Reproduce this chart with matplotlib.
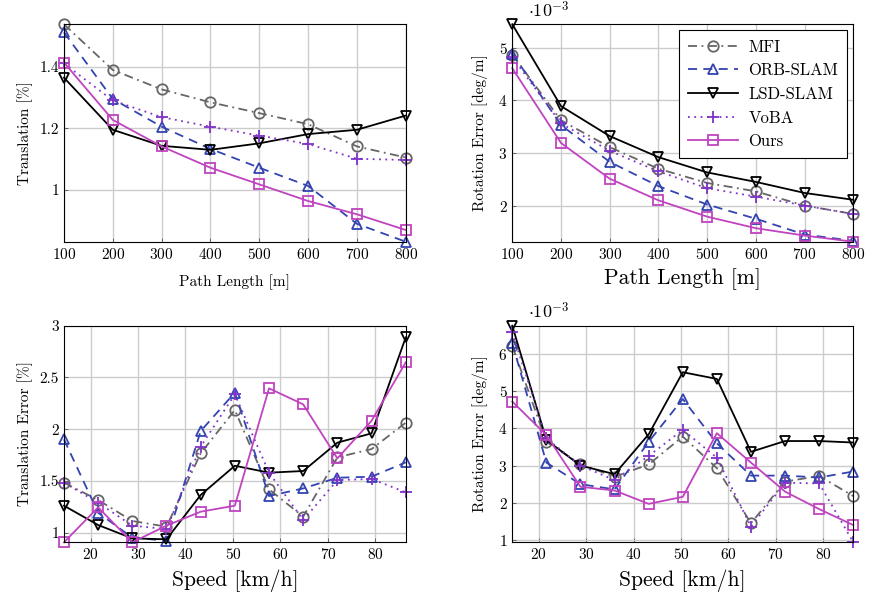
import matplotlib
matplotlib.use("Agg")
import matplotlib.pyplot as plt

plt.rcParams["font.family"] = ["cmr10", "DejaVu Serif"]
plt.rcParams["mathtext.fontset"] = "cm"
plt.rcParams["axes.unicode_minus"] = False
plt.rcParams["axes.formatter.use_mathtext"] = True

# ---- data ----
path_length = [100, 200, 300, 400, 500, 600, 700, 800]

trans_path = {
    "MFI": [1.537, 1.389, 1.326, 1.284, 1.249, 1.213, 1.141, 1.105],
    "ORB-SLAM": [1.511, 1.295, 1.205, 1.133, 1.072, 1.013, 0.890, 0.832],
    "LSD-SLAM": [1.364, 1.195, 1.143, 1.130, 1.151, 1.181, 1.195, 1.241],
    "VoBA": [1.410, 1.290, 1.236, 1.205, 1.176, 1.149, 1.101, 1.097],
    "Ours": [1.413, 1.227, 1.141, 1.072, 1.018, 0.964, 0.921, 0.870],
}

rot_path = {  # x 1e-3 deg/m
    "MFI": [4.87, 3.62, 3.11, 2.70, 2.43, 2.27, 2.00, 1.84],
    "ORB-SLAM": [4.89, 3.53, 2.83, 2.37, 2.02, 1.75, 1.45, 1.33],
    "LSD-SLAM": [5.445, 3.89, 3.32, 2.92, 2.63, 2.45, 2.24, 2.11],
    "VoBA": [4.82, 3.56, 3.04, 2.65, 2.33, 2.17, 2.00, 1.84],
    "Ours": [4.61, 3.19, 2.51, 2.10, 1.79, 1.57, 1.43, 1.313],
}

speed = [14.4, 21.6, 28.8, 36.0, 43.2, 50.4, 57.6, 64.8, 72.0, 79.2, 86.4]

trans_speed = {
    "MFI": [1.483, 1.316, 1.113, 1.058, 1.767, 2.185, 1.419, 1.155, 1.728, 1.808, 2.063],
    "ORB-SLAM": [1.902, 1.193, 0.952, 0.923, 1.982, 2.353, 1.354, 1.428, 1.531, 1.541, 1.680],
    "LSD-SLAM": [1.261, 1.074, 0.945, 0.936, 1.364, 1.647, 1.580, 1.596, 1.870, 1.960, 2.887],
    "VoBA": [1.483, 1.290, 1.068, 1.035, 1.831, 2.337, 1.580, 1.122, 1.509, 1.519, 1.390],
    "Ours": [0.907, 1.245, 0.907, 1.068, 1.203, 1.261, 2.395, 2.240, 1.718, 2.082, 2.646],
}

rot_speed = {  # x 1e-3 deg/m
    "MFI": [6.22, 3.64, 3.04, 2.70, 3.03, 3.78, 2.93, 1.45, 2.57, 2.72, 2.18],
    "ORB-SLAM": [6.29, 3.08, 2.50, 2.36, 3.64, 4.79, 3.60, 2.73, 2.73, 2.68, 2.84],
    "LSD-SLAM": [6.76, 3.69, 3.00, 2.77, 3.84, 5.51, 5.33, 3.37, 3.66, 3.66, 3.62],
    "VoBA": [6.58, 3.73, 3.00, 2.61, 3.26, 3.96, 3.21, 1.36, 2.54, 2.52, 0.94],
    "Ours": [4.72, 3.82, 2.43, 2.33, 1.97, 2.16, 3.87, 3.08, 2.30, 1.83, 1.40],
}

METHODS = ["MFI", "ORB-SLAM", "LSD-SLAM", "VoBA", "Ours"]

STYLES = {
    "MFI": dict(color="#666666", linestyle=(0, (5, 2.5, 1, 2.5)), marker="o"),
    "ORB-SLAM": dict(color="#3344b0", linestyle=(0, (5, 3.5)), marker="^"),
    "LSD-SLAM": dict(color="black", linestyle="-", marker="v"),
    "VoBA": dict(color="#8033c8", linestyle=(0, (1, 2.5)), marker="+"),
    "Ours": dict(color="#c043c0", linestyle="-", marker="s"),
}


def draw(ax, x, series):
    for name in METHODS:
        st = STYLES[name]
        ax.plot(x, series[name], color=st["color"], linestyle=st["linestyle"],
                marker=st["marker"], markersize=8.5 if st["marker"] == "+" else 7.5,
                markerfacecolor="none", markeredgecolor=st["color"],
                markeredgewidth=1.3, linewidth=1.3, label=name, clip_on=False)
    ax.grid(True, color="#cccccc", linewidth=1.0)
    ax.set_axisbelow(True)
    ax.tick_params(direction="in", length=3, labelsize=11, width=0.6,
                   color="#555555")
    for sp in ax.spines.values():
        sp.set_linewidth(0.8)


fig = plt.figure(figsize=(8.69, 5.97), dpi=100)
ax1 = fig.add_axes([0.0736, 0.5951, 0.3933, 0.3642])
ax2 = fig.add_axes([0.5895, 0.5951, 0.3924, 0.3642])
ax3 = fig.add_axes([0.0736, 0.0916, 0.3933, 0.3628])
ax4 = fig.add_axes([0.5895, 0.0916, 0.3924, 0.3628])

draw(ax1, path_length, trans_path)
ax1.set_xlim(100, 800)
ax1.set_ylim(0.832, 1.537)
ax1.set_xticks(path_length)
ax1.set_yticks([1.0, 1.2, 1.4])
ax1.set_yticklabels(["1", "1.2", "1.4"])
ax1.set_xlabel("Path Length [m]", fontsize=11, labelpad=9)
ax1.set_ylabel("Translation [%]", fontsize=11, labelpad=5)

draw(ax2, path_length, rot_path)
ax2.set_xlim(100, 800)
ax2.set_ylim(1.313, 5.445)
ax2.set_xticks(path_length)
ax2.set_yticks([2, 3, 4, 5])
ax2.set_xlabel("Path Length [m]", fontsize=15.5, labelpad=5)
ax2.set_ylabel("Rotation Error [deg/m]", fontsize=11, labelpad=7)
ax2.text(0.045, 1.02, r"$\cdot 10^{-3}$", transform=ax2.transAxes,
         fontsize=13, ha="left", va="bottom")
leg = ax2.legend(loc="upper right", fontsize=12, frameon=True, fancybox=False,
                 edgecolor="black", framealpha=1, handlelength=3.0,
                 borderpad=0.55, labelspacing=0.5, borderaxespad=0.35,
                 handletextpad=0.6)
leg.get_frame().set_linewidth(0.8)

draw(ax3, speed, trans_speed)
ax3.set_xlim(14.4, 86.4)
ax3.set_ylim(0.907, 3.0)
ax3.set_xticks([20, 30, 40, 50, 60, 70, 80])
ax3.set_yticks([1, 1.5, 2, 2.5, 3])
ax3.set_yticklabels(["1", "1.5", "2", "2.5", "3"])
ax3.set_xlabel("Speed [km/h]", fontsize=15.5, labelpad=5)
ax3.set_ylabel("Translation Error [%]", fontsize=11, labelpad=5)

draw(ax4, speed, rot_speed)
ax4.set_xlim(14.4, 86.4)
ax4.set_ylim(0.937, 6.76)
ax4.set_xticks([20, 30, 40, 50, 60, 70, 80])
ax4.set_yticks([1, 2, 3, 4, 5, 6])
ax4.set_xlabel("Speed [km/h]", fontsize=15.5, labelpad=5)
ax4.set_ylabel("Rotation Error [deg/m]", fontsize=11, labelpad=7)
ax4.text(0.045, 1.02, r"$\cdot 10^{-3}$", transform=ax4.transAxes,
         fontsize=13, ha="left", va="bottom")

fig.savefig("out.png", dpi=100)
